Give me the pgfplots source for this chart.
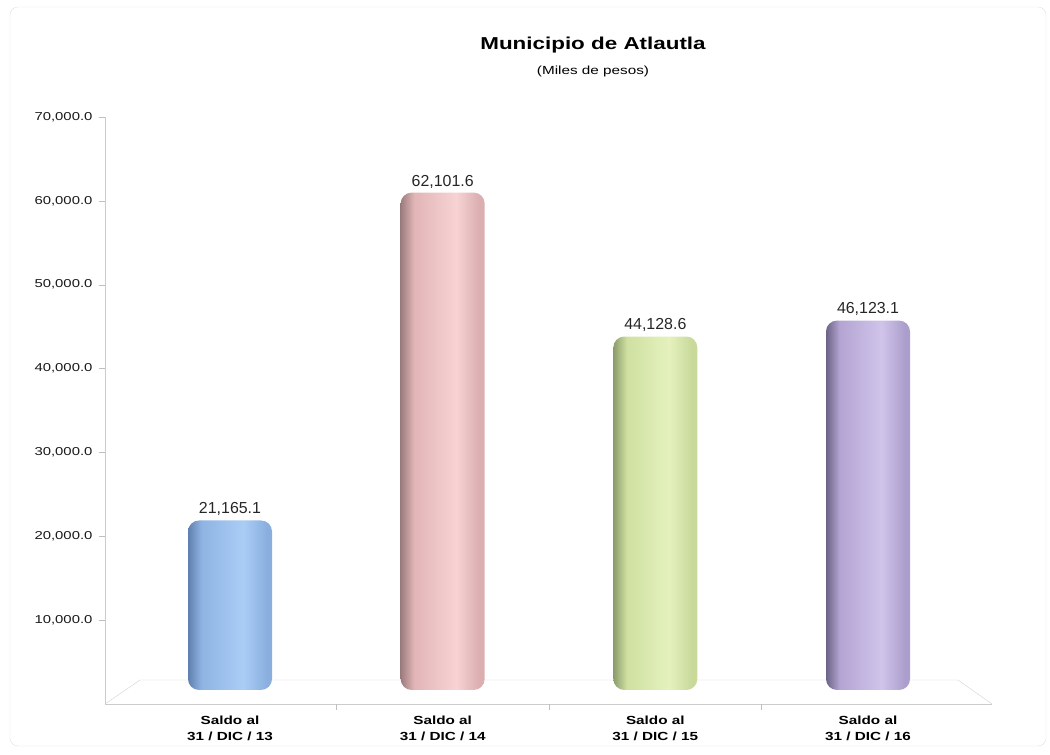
\documentclass[border=0pt]{standalone}
\usepackage{pgfplots}
\pgfplotsset{compat=1.18}
\usepackage{fontspec}
\setmainfont{Liberation Sans}
\newfontfamily\wide{Liberation Sans}[FakeStretch=1.3]

% cylinder colours: dark edge, body, highlight, right side
\definecolor{bDark}{HTML}{5F7FAF}
\definecolor{bMid}{HTML}{8FB4E3}
\definecolor{bLight}{HTML}{AACDF5}
\definecolor{bRight}{HTML}{8AAFDF}
\definecolor{pDark}{HTML}{9C7C7E}
\definecolor{pMid}{HTML}{E2B5B7}
\definecolor{pLight}{HTML}{F7D3D4}
\definecolor{pRight}{HTML}{DBAEB0}
\definecolor{gDark}{HTML}{8C9C6B}
\definecolor{gMid}{HTML}{CFE0A1}
\definecolor{gLight}{HTML}{E5F1BE}
\definecolor{gRight}{HTML}{C8D99A}
\definecolor{vDark}{HTML}{6C6386}
\definecolor{vMid}{HTML}{B3A4D2}
\definecolor{vLight}{HTML}{D0C4EA}
\definecolor{vRight}{HTML}{AC9ECC}

\pgfdeclarehorizontalshading{cylBlue}{100bp}{color(0bp)=(bDark); color(25bp)=(bDark); color(33bp)=(bMid); color(58bp)=(bLight); color(72bp)=(bRight); color(100bp)=(bRight)}
\pgfdeclarehorizontalshading{cylPink}{100bp}{color(0bp)=(pDark); color(25bp)=(pDark); color(33bp)=(pMid); color(58bp)=(pLight); color(72bp)=(pRight); color(100bp)=(pRight)}
\pgfdeclarehorizontalshading{cylGreen}{100bp}{color(0bp)=(gDark); color(25bp)=(gDark); color(33bp)=(gMid); color(58bp)=(gLight); color(72bp)=(gRight); color(100bp)=(gRight)}
\pgfdeclarehorizontalshading{cylViolet}{100bp}{color(0bp)=(vDark); color(25bp)=(vDark); color(33bp)=(vMid); color(58bp)=(vLight); color(72bp)=(vRight); color(100bp)=(vRight)}

\pgfplotsset{
  numfmt/.style={
    /pgf/number format/fixed,
    /pgf/number format/fixed zerofill,
    /pgf/number format/precision=1,
    /pgf/number format/1000 sep={,},
    /pgf/number format/assume math mode=true},
  cyl/.style={ybar, bar shift=0pt, draw=none, shading=#1, shade, rounded corners=11bp},
}

\begin{document}
\begin{tikzpicture}
\path[use as bounding box] (0bp,0bp) rectangle (1050bp,755bp);
\draw[black!12, rounded corners=8bp] (10bp,9bp) rectangle (1046bp,748bp);

\node[font=\wide\bfseries\fontsize{17.3}{20}\selectfont] at (593bp,710bp) {Municipio de Atlautla};
\node[font=\wide\fontsize{11.8}{14}\selectfont] at (593bp,684bp) {(Miles de pesos)};

% value axis with ticks and floor
\begin{axis}[
    at={(105bp,51bp)}, anchor=south west,
    scale only axis, width=887bp, height=587bp,
    xmin=-0.5878, xmax=3.583, ymin=0, ymax=70000,
    axis x line*=bottom, axis y line*=left,
    axis line style={draw=black!20, -},
    ytick={10000,20000,...,70000},
    scaled y ticks=false, numfmt,
    tick align=outside, major tick length=6bp,
    ytick style={draw=black!25},
    xtick={0,1,2,3}, xtick style={draw=none},
    xticklabels={{Saldo al\\31 / DIC / 13},{Saldo al\\31 / DIC / 14},{Saldo al\\31 / DIC / 15},{Saldo al\\31 / DIC / 16}},
    xticklabel style={align=center, font=\wide\bfseries\fontsize{11.8}{17}\selectfont, yshift=-2bp},
    yticklabel style={font=\wide\fontsize{11.5}{13}\selectfont, text=black!90, xshift=-3bp},
    clip=false,
]
\draw[black!18] (axis cs:-0.5878,0) -- (axis cs:-0.423,2862) -- (axis cs:3.423,2862) -- (axis cs:3.583,0);
\pgfplotsinvokeforeach{0.5,1.5,2.5}{
  \draw[black!25] (axis cs:#1,0) -- ++(0bp,-6bp);
}
\end{axis}

% cylinders, set back on the floor
\begin{axis}[
    at={(105bp,65bp)}, anchor=south west,
    scale only axis, width=887bp, height=560.7bp,
    xmin=-0.5878, xmax=3.583, ymin=0, ymax=70000,
    hide axis, clip=false, bar width=84bp, numfmt,
    nodes near coords,
    every node near coord/.append style={font=\fontsize{16}{18}\selectfont, text=black!85, yshift=1bp},
]
\addplot[cyl=cylBlue] coordinates {(0,21165.1)};
\addplot[cyl=cylPink] coordinates {(1,62101.6)};
\addplot[cyl=cylGreen] coordinates {(2,44128.6)};
\addplot[cyl=cylViolet] coordinates {(3,46123.1)};
\end{axis}
\end{tikzpicture}
\end{document}
